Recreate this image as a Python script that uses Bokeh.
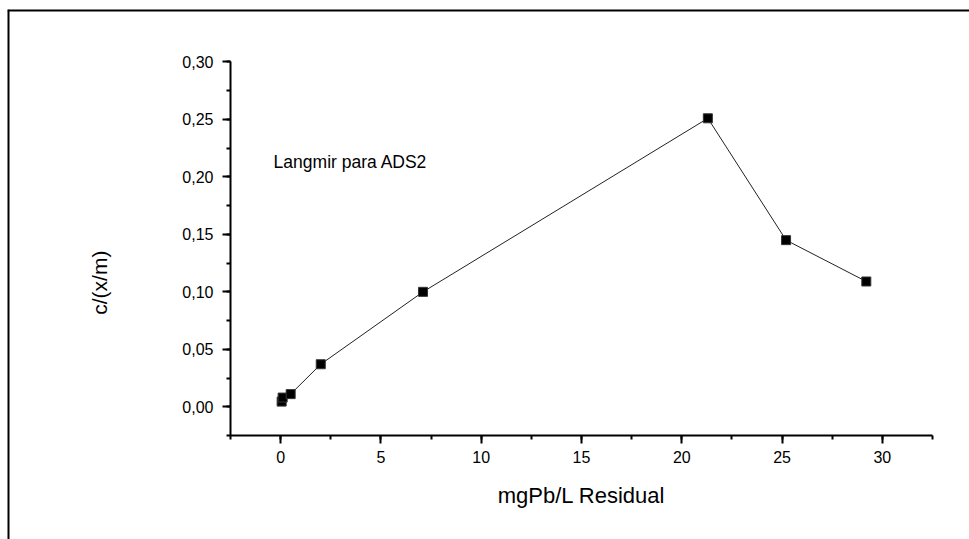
from math import pi
from bokeh.plotting import figure
from bokeh.models import (Range1d, LinearAxis, SingleIntervalTicker, Label, Span,
                          CustomJSTickFormatter)
from bokeh.embed import file_html
from bokeh.resources import INLINE

# ---- data ----
residual = [0.05, 0.10, 0.50, 2.0, 7.1, 21.3, 25.2, 29.2]        # mgPb/L Residual
c_xm     = [0.0045, 0.008, 0.011, 0.037, 0.100, 0.251, 0.145, 0.109]  # c/(x/m)

x_label = "mgPb/L Residual"
y_label = "c/(x/m)"
note = "Langmir para ADS2"

# axis extents of the drawn axes
X_AXIS = (-2.5, 32.5)
Y_AXIS = (-0.025, 0.30)

# full frame ranges (axes sit inside the frame, page border on frame edges)
XS, XE = -13.618, 34.345
YS, YE = -0.1155, 0.34568

FONT = "Liberation Sans"

p = figure(width=969, height=539, x_range=Range1d(XS, XE), y_range=Range1d(YS, YE),
           x_axis_type=None, y_axis_type=None, toolbar_location=None,
           output_backend="svg", min_border_left=7, min_border_top=9,
           min_border_right=0, min_border_bottom=0)
p.outline_line_color = None
p.background_fill_color = "white"
p.border_fill_color = "white"

xaxis = LinearAxis(fixed_location=Y_AXIS[0], bounds=(X_AXIS[0] - 1e-4, X_AXIS[1] + 1e-4),
                   ticker=SingleIntervalTicker(interval=5, num_minor_ticks=2))
yaxis = LinearAxis(fixed_location=X_AXIS[0], bounds=(Y_AXIS[0] - 1e-4, Y_AXIS[1] + 1e-4),
                   ticker=SingleIntervalTicker(interval=0.05, num_minor_ticks=2),
                   formatter=CustomJSTickFormatter(code="return tick.toFixed(2).replace('.', ',');"))
for ax, so in ((xaxis, 8), (yaxis, 9)):
    ax.axis_line_width = 2
    ax.axis_line_color = "black"
    ax.major_tick_line_width = 2
    ax.minor_tick_line_width = 2
    ax.major_tick_line_color = "black"
    ax.minor_tick_line_color = "black"
    ax.major_tick_in = 0
    ax.major_tick_out = 8
    ax.minor_tick_in = 0
    ax.minor_tick_out = 4
    ax.major_label_text_font = FONT
    ax.major_label_text_font_size = "16px"
    ax.major_label_text_color = "black"
    ax.major_label_standoff = so
p.add_layout(xaxis, "below")
p.add_layout(yaxis, "left")

# page border (left and top)
p.add_layout(Span(location=XS, dimension="height", line_color="black", line_width=4))
p.add_layout(Span(location=YE, dimension="width", line_color="black", line_width=4))

p.line(residual, c_xm, line_color="#222222", line_width=1)
p.scatter(residual, c_xm, marker="square", size=9, fill_color="black",
          line_color="#333333", line_width=1)

p.add_layout(Label(x=-0.35, y=0.2126, text=note, text_font=FONT,
                   text_font_size="17.5px", text_color="black",
                   text_baseline="alphabetic"))
p.add_layout(Label(x=15, y=-0.0772, text=x_label, text_font=FONT,
                   text_font_size="22px", text_color="black",
                   text_align="center", text_baseline="alphabetic"))
p.add_layout(Label(x=-9.03, y=0.108, text=y_label, text_font=FONT, angle=pi / 2,
                   text_font_size="21px", text_color="black",
                   text_align="center", text_baseline="alphabetic"))

open("out.html", "w").write(file_html(p, INLINE))
